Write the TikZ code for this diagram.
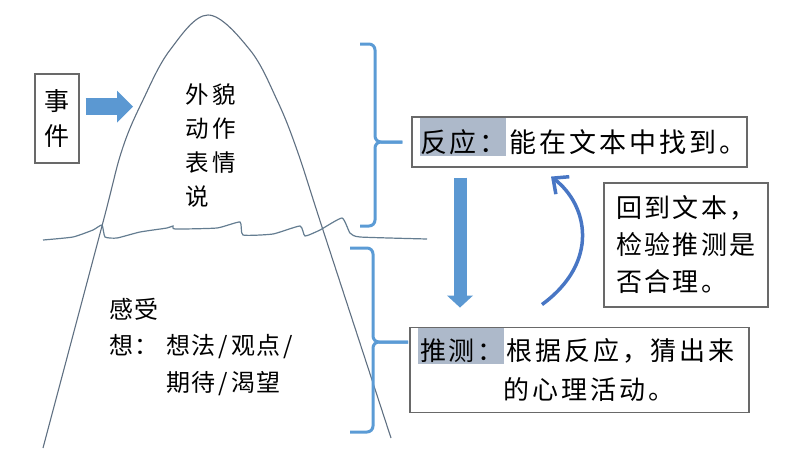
\documentclass[tikz,border=0pt]{standalone}
\usepackage{fontspec}
\usepackage{xcolor}
\usetikzlibrary{arrows.meta, positioning}
\newfontfamily\cjk{Noto Sans CJK SC}
\newcommand\cjkfont[3]{\fontsize{#1}{#2}\cjk\addfontfeature{LetterSpace=#3}}
\definecolor{bracketblue}{RGB}{91, 155, 213}
\definecolor{arrowblue}{RGB}{91, 152, 210}
\definecolor{curveblue}{RGB}{72, 118, 196}
\definecolor{hillgray}{RGB}{95, 112, 130}
\definecolor{watergray}{RGB}{100, 125, 145}
\definecolor{framegray}{RGB}{105, 105, 105}
\definecolor{hilite}{RGB}{173, 185, 202}

\begin{document}
\begin{tikzpicture}[
        x=1pt, y=-1pt,
        framebox/.style={rectangle, draw=framegray, line width=1.1pt, inner sep=0pt},
        hilltext/.style={anchor=west, inner sep=0pt, align=left},
        hill/.style={draw=hillgray, line width=1.1pt},
        water/.style={draw=watergray, line width=1.2pt},
        bracket/.style={draw=bracketblue, line width=3pt, rounded corners=6pt},
        pusharrow/.style={line width=17pt, draw=arrowblue, -{Triangle[width=32pt, length=16pt, line width=0pt]}},
        downarrow/.style={line width=13pt, draw=arrowblue, -{Triangle[width=26pt, length=12pt, line width=0pt]}},
        backarrow/.style={line width=3.5pt, draw=curveblue, -{Straight Barb[length=12pt, width=22pt]}}
    ]
        \useasboundingbox (0,0) rectangle (800,461);

        % Iceberg
        \draw[hill] plot[smooth, tension=0.6] coordinates {(43,448) (102,226) (122,150) (143,100) (170,50) (208,15) (250,50) (277,100) (297,150) (323,230) (391,438)};

        % Water line
        \draw[water] plot[smooth, tension=0.3] coordinates {(43,240) (73,237) (93,230) (102,225) (105,237) (117,238) (140,232) (167,228) (173,226) (175,229) (217,228) (240,222) (243,235) (273,234) (300,226) (305,236) (320,230) (342,218) (350,233) (360,237) (427,239)};

        % Texts on the iceberg
        \node[hilltext, font=\cjkfont{23.5}{34}{15}] (visible) at (185,146) {外貌\\动作\\表情\\说};
        \node[hilltext, font=\cjkfont{24}{36.5}{4}] (hidden) at (109,347) {感受\\想：\kern8pt想法{\kern3.5pt/\kern3.5pt}观点{\kern3.5pt/}\\\hspace*{57pt}期待{\kern3.5pt/\kern3.5pt}渴望};

        % Event
        \node[framebox, minimum width=44pt, minimum height=89pt, align=center, font=\cjkfont{25}{35}{0}] (event) at (57,118.5) {事\\件};
        \coordinate (hillside) at (133,106.5);

        % Highlights
        \fill[hilite] (420,118) rectangle (506,156);
        \fill[hilite] (418,328) rectangle (504,364);

        % Reaction and guess
        \node[framebox, text width=319pt, minimum height=50pt, inner xsep=8pt, align=left, font=\cjkfont{27}{30}{11}] (react) at (579.5,142) {反应：能在文本中找到。};
        \node[framebox, text width=319pt, minimum height=85pt, inner xsep=10pt, align=left, font=\cjkfont{26}{39}{11}, below=159pt of react] (guess) {推测：根据反应，猜出来\\\phantom{推测：}的心理活动。};

        % Check back
        \node[framebox, minimum width=164pt, minimum height=124pt, align=left, font=\cjkfont{26}{37}{8}] (back) at (686,245) {回到文本，\\检验推测是\\否合理。};

        % Brackets
        \coordinate (upperjoint) at (375,142);
        \coordinate (lowerjoint) at (373,342);
        \coordinate (lowertip) at (408,342);
        \draw[bracket] (360,44) -| (upperjoint) -- ([xshift=-9pt]react.west);
        \draw[bracket] (360,226) -| (upperjoint) -- ([xshift=-9pt]react.west);
        \draw[bracket] (350,248) -| (lowerjoint) -- (lowertip);
        \draw[bracket] (350,432) -| (lowerjoint) -- (lowertip);

        % Arrows
        \coordinate (downline) at (460,0);
        \draw[pusharrow, shorten <=6pt] ([yshift=12pt]event.east) -- (hillside);
        \draw[downarrow, shorten <=10pt, shorten >=19pt] (react.south -| downline) -- (guess.north -| downline);
        \draw[backarrow] ([xshift=-37.5pt, yshift=22pt]guess.north) .. controls (600,262) and (588,205) .. ([xshift=-28.5pt, yshift=-9pt]react.south);

    \end{tikzpicture}
\end{document}
